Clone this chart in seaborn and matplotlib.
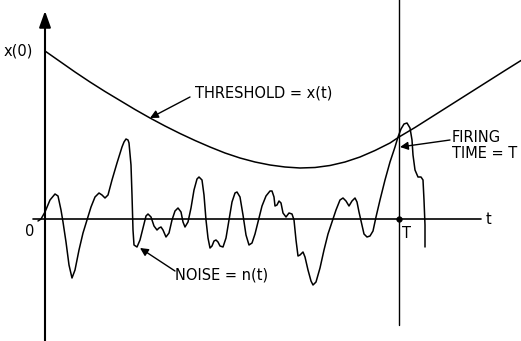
import numpy as np
import pandas as pd
import matplotlib
matplotlib.use("Agg")
import matplotlib.pyplot as plt
import seaborn as sns

# Threshold curve x(t)
thr_t = [0, 15, 30, 45, 60, 75, 90, 105, 120, 135, 150, 165, 180, 195,
         210, 225, 240, 255, 270, 285, 300, 315, 330, 345, 354, 370,
         385, 400, 415, 430, 445, 460, 476]
thr_x = [168, 157.5, 147, 137, 127.5, 118.5, 109.5, 101, 93, 85.5, 78.5,
         72, 66, 61, 57, 54, 52, 51, 51.5, 53.5, 57, 62, 68.5, 76, 82,
         91.5, 101, 110.5, 120, 129.5, 139, 148.5, 158.5]

# Noise n(t)
noise_t = [-7, -4, 0, 5, 10, 13, 16, 18, 21, 24,
           27, 30, 34, 38, 42, 46, 50, 54, 57, 60,
           63, 67, 72, 77, 79, 81, 83, 84, 86, 87, 88, 89,
           92, 95, 98, 101, 103, 106, 109, 112, 114, 116,
           118, 121, 124, 127, 130, 133, 136, 138, 140, 143,
           146, 149, 152, 154, 157, 159, 161, 163, 165, 167,
           169, 171, 173, 175, 178, 181, 184, 187, 190, 192,
           195, 198, 201, 204, 207, 210, 213, 217, 221, 225,
           227, 229, 230, 232, 234, 236, 238, 241, 244, 247,
           249, 251, 253, 255, 258, 260, 263, 266, 268, 271,
           275, 279, 283, 287, 291, 295, 298, 301, 304, 307,
           310, 312, 314, 317, 319, 322, 325, 328, 331, 335,
           340, 345, 350, 353, 356, 359, 362, 365, 367, 368,
           370, 373, 376, 378, 379, 380, 380]
noise_n = [-2, 0, 7, 19, 25, 23, 9, -3, -23, -46,
           -59, -51, -31, -14, -1, 12, 22, 26, 24, 21,
           24, 39, 56, 72, 77, 80, 79, 76, 54, 24, -11, -26,
           -28, -21, -9, 3, 5, 2, -7, -11, -9, -8,
           -11, -18, -14, -1, 8, 11, 7, -3, -8, -3,
           11, 29, 40, 42, 39, 24, -1, -19, -29, -27,
           -22, -21, -23, -27, -28, -19, -1, 17, 26, 27,
           22, 4, -16, -26, -24, -15, -3, 13, 23, 28,
           28, 22, 13, 14, 18, 16, 6, 2, 6, 5,
           -1, -21, -37, -36, -33, -38, -51, -62, -66, -63,
           -49, -31, -15, -3, 9, 19, 21, 18, 13, 18,
           21, 17, 7, -6, -15, -18, -17, -12, 2, 19,
           39, 57, 72, 82, 90, 95, 96, 91, 79, 64,
           49, 42, 42, 39, 19, -6, -28]

T_FIRE = 354
x0 = thr_x[0]

sns.set_style("white")
plt.rcParams['font.family'] = ['DejaVu Sans']
plt.rcParams['text.color'] = 'black'

fig = plt.figure(figsize=(5.21, 3.41), dpi=100)
ax = fig.add_axes([0, 0, 1, 1])

thr = pd.DataFrame({"t": thr_t, "x": thr_x})
noise = pd.DataFrame({"t": noise_t, "n": noise_n})

sns.lineplot(data=thr, x="t", y="x", color="black", lw=1.1, sort=False,
             estimator=None, ax=ax)
sns.lineplot(data=noise, x="t", y="n", color="black", lw=1.1, sort=False,
             estimator=None, ax=ax)

# axes of the sketch
ax.plot([-12, 436], [0, 0], color="black", lw=1.2)
ax.annotate("", xy=(0, 208), xytext=(0, -125),
            arrowprops=dict(arrowstyle="-|>,head_width=0.25,head_length=0.7",
                            color="black", lw=1.5,
                            mutation_scale=14, shrinkA=0, shrinkB=0))
ax.plot([T_FIRE, T_FIRE], [222, -106], color="black", lw=1.0)
ax.plot([T_FIRE], [0], "o", color="black", ms=3.5)

fs = 10.5
ax.text(-27, x0, "x(0)", fontsize=fs, ha="center", va="center")
ax.text(-15, -13, "0", fontsize=fs, ha="center", va="center")
ax.text(444, 0, "t", fontsize=fs, ha="center", va="center")
ax.text(362, -14, "T", fontsize=fs, ha="center", va="center")

ax.text(150, 126, "THRESHOLD = x(t)", fontsize=fs, ha="left", va="center")
ax.annotate("", xy=(105, 101), xytext=(145, 122),
            arrowprops=dict(arrowstyle="-|>", color="black", lw=1.0,
                            mutation_scale=12, shrinkA=0, shrinkB=0))

ax.text(130, -56, "NOISE = n(t)", fontsize=fs, ha="left", va="center")
ax.annotate("", xy=(95, -29), xytext=(130, -52),
            arrowprops=dict(arrowstyle="-|>", color="black", lw=1.0,
                            mutation_scale=12, shrinkA=0, shrinkB=0))

ax.text(407, 82, "FIRING", fontsize=fs, ha="left", va="center")
ax.text(407, 66, "TIME = T", fontsize=fs, ha="left", va="center")
ax.annotate("", xy=(355, 72), xytext=(405, 79),
            arrowprops=dict(arrowstyle="-|>", color="black", lw=1.0,
                            mutation_scale=12, shrinkA=0, shrinkB=0))

ax.set_xlim(-45, 476)
ax.set_ylim(-122, 219)
ax.set_axis_off()

fig.savefig("out.png", dpi=100)
